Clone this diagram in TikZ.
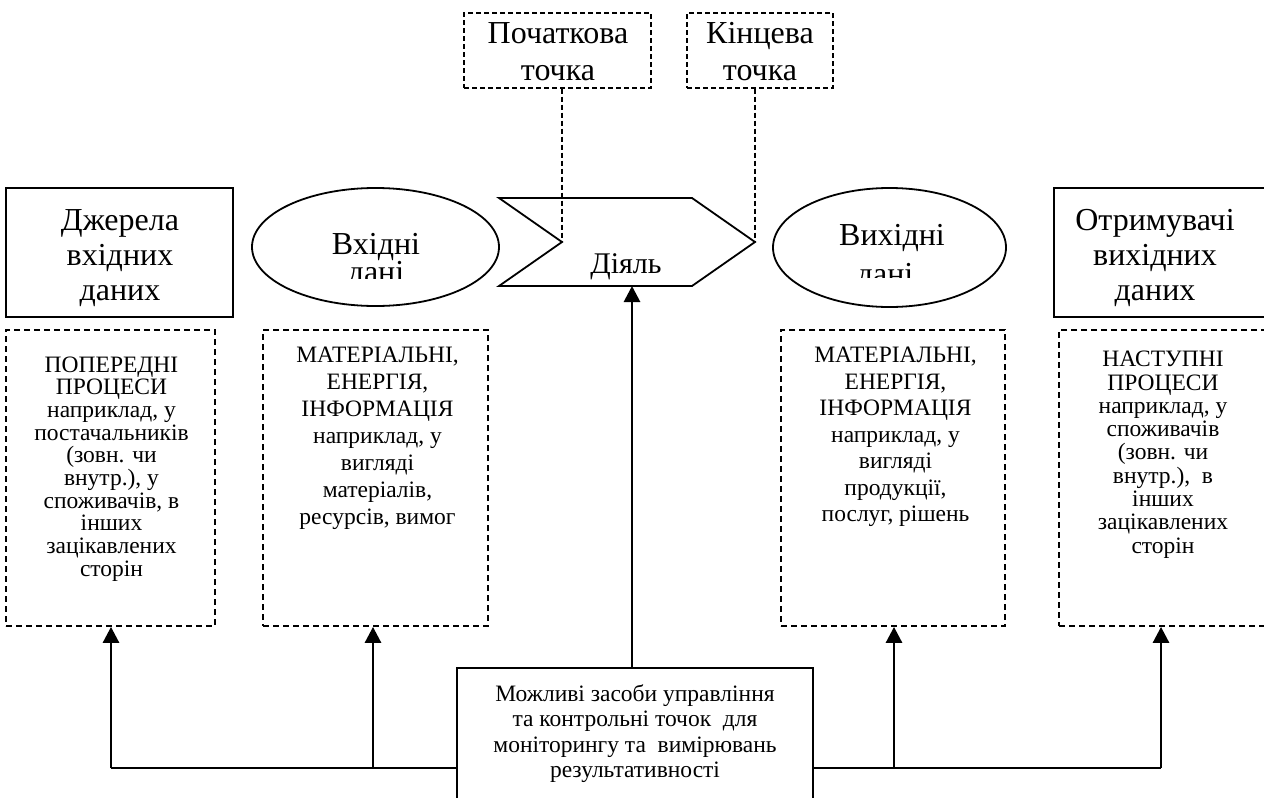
\documentclass[tikz,border=0pt]{standalone}
\usepackage{fontspec}
\setmainfont{Liberation Serif}
\usetikzlibrary{shapes.geometric,arrows.meta}
\begin{document}
\begin{tikzpicture}[x=1pt,y=-1pt,
  solidbox/.style={draw,line width=1.8pt,rectangle,inner sep=0pt},
  dashbox/.style={draw,line width=1.8pt,dash pattern=on 6pt off 4pt,rectangle,inner sep=0pt},
  topbox/.style={draw,line width=1.4pt,dash pattern=on 5pt off 3pt,rectangle,inner sep=0pt},
  dashlink/.style={line width=1.4pt,dash pattern=on 5pt off 3pt},
  oval/.style={draw,line width=1.8pt,ellipse,inner sep=0pt},
  wire/.style={line width=2.8pt},
  link/.style={line width=2.8pt,-{Triangle[width=16pt,length=16pt]}},
  big/.style={font=\fontsize{32}{37}\selectfont,align=center,inner sep=0pt,anchor=base},
  small/.style={font=\fontsize{23.5}{22.7}\selectfont,align=center,inner sep=0pt,anchor=base},
  mid/.style={font=\fontsize{23.5}{25.5}\selectfont,align=center,inner sep=0pt,anchor=base}]
\useasboundingbox (0,0) rectangle (1264,798);
\clip (0,0) rectangle (1264,798);

% top dashed boxes (multi-line nodes: base = baseline of last line)
\node[topbox,minimum width=187pt,minimum height=75pt] (startbox) at (557.5,50.5) {};
\node[topbox,minimum width=146pt,minimum height=75pt] (endbox) at (760,50.5) {};
\node[big] (startT) at (558,80) {Початкова\\точка};
\node[big] (endT) at (760,80) {Кінцева\\точка};

% activity shape
\coordinate (notch) at (562,242);
\coordinate (tip) at (755,242);
\coordinate (actb) at (632,286);
\draw[line width=1.8pt,line join=miter] (499,198) -- (692,198) -- (tip) -- (692,286) -- (499,286) -- (notch) -- cycle;
\node[big,font=\fontsize{30}{36}\selectfont] (actT) at (626,273) {Діяль};
\draw[dashlink] (notch |- startbox.south) -- (notch);
\draw[dashlink] (tip |- endbox.south) -- (tip);

% top row
\node[solidbox,minimum width=227pt,minimum height=129pt] (src) at (119.5,252.5) {};
\node[big,font=\fontsize{32}{35}\selectfont] (srcT) at (120,300) {Джерела\\вхідних\\даних};
\node[oval,minimum width=247pt,minimum height=118pt] (inO) at (375.5,247) {};
\node[big] (inT1) at (376,254) {Вхідні};
\begin{scope}
  \clip (250,180) rectangle (500,278);
  \node[big] (inT2) at (376,282.5) {дані};
\end{scope}
\node[oval,minimum width=233pt,minimum height=119pt] (outO) at (889.5,247.5) {};
\node[big] (outT1) at (892,245) {Вихідні};
\begin{scope}
  \clip (770,180) rectangle (1010,277);
  \node[big] (outT2) at (885,284.5) {дані};
\end{scope}
\node[solidbox,minimum width=212pt,minimum height=129pt] (dst) at (1160,252.5) {};
\node[big,font=\fontsize{32}{35}\selectfont] (dstT) at (1155,300) {Отримувачі\\вихідних\\даних};

% dashed boxes
\node[dashbox,minimum width=209pt,minimum height=296pt] (b1) at (110.5,478) {};
\node[dashbox,minimum width=225pt,minimum height=296pt] (b2) at (375.5,478) {};
\node[dashbox,minimum width=224pt,minimum height=296pt] (b3) at (893,478) {};
\node[dashbox,minimum width=206pt,minimum height=296pt] (b4) at (1162,478) {};

\node[small] (b1T) at (111.5,576.3) {ПОПЕРЕДНІ\\ПРОЦЕСИ\\наприклад, у\\постачальників\\(зовн. чи\\внутр.), у\\споживачів, в\\інших\\зацікавлених\\сторін};
\node[small,font=\fontsize{23.5}{27}\selectfont] (b2T) at (377.5,524.7) {МАТЕРІАЛЬНІ,\\ЕНЕРГІЯ,\\ІНФОРМАЦІЯ\\наприклад, у\\вигляді\\матеріалів,\\ресурсів, вимог};
\node[small,font=\fontsize{23.5}{26.5}\selectfont] (b3T) at (895.5,521.7) {МАТЕРІАЛЬНІ,\\ЕНЕРГІЯ,\\ІНФОРМАЦІЯ\\наприклад, у\\вигляді\\продукції,\\послуг, рішень};
\node[small,font=\fontsize{23.5}{23.3}\selectfont] (b4T) at (1163,553.1) {НАСТУПНІ\\ПРОЦЕСИ\\наприклад, у\\споживачів\\(зовн. чи\\внутр.),~ в\\інших\\зацікавлених\\сторін};

% control box
\node[solidbox,minimum width=356pt,minimum height=150pt] (ctrl) at (635,743) {};
\node[mid] (ctrlT) at (635,777.5) {Можливі засоби управління\\та контрольні точок~ для\\моніторингу та~ вимірювань\\результативності};

% connectors
\coordinate (h1) at (111,768);
\coordinate (h2) at (373,768);
\coordinate (h3) at (894,768);
\coordinate (h4) at (1161,768);
\draw[wire] (h1 -| ctrl.west) -- (h1);
\draw[wire] (h4 -| ctrl.east) -- (h4);
\draw[link] (h1) -- (h1 |- b1.south);
\draw[link] (h2) -- (h2 |- b2.south);
\draw[link] (h3) -- (h3 |- b3.south);
\draw[link] (h4) -- (h4 |- b4.south);
\draw[link] (actb |- ctrl.north) -- (actb);
\end{tikzpicture}
\end{document}
